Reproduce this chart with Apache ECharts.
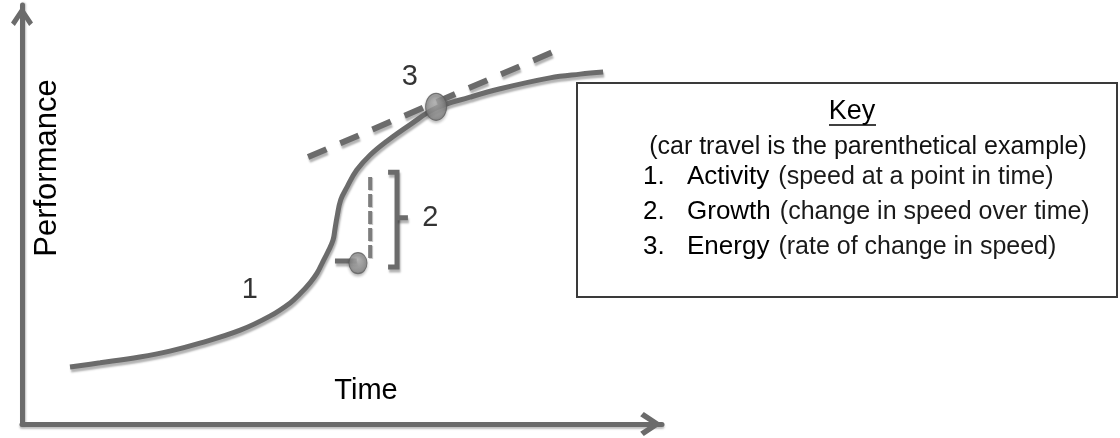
<!DOCTYPE html>
<html>
<head>
<meta charset="utf-8">
<script src="https://cdn.jsdelivr.net/npm/echarts@6/dist/echarts.min.js"></script>
<style>html,body{margin:0;padding:0;background:#fff}#c{width:1120px;height:438px}</style>
</head>
<body>
<div id="c"></div>
<script>
// Conceptual S-curve (Time 0-100, Performance 0-100)
const curveTime = [7.5, 12.2, 18.4, 23.1, 27.8, 34.1, 38.8, 41.9, 43.4, 45.0, 46.1, 47.0, 47.8, 48.6, 48.9, 49.2, 49.8, 50.8, 52.3, 54.4, 57.0, 60.6, 64.7, 70.0, 74.7, 82.5, 87.2, 90.8];
const curvePerf = [13.6, 14.6, 16.0, 17.4, 19.3, 22.4, 25.8, 28.9, 31.0, 33.7, 36.0, 38.7, 41.1, 43.9, 46.5, 49.2, 53.5, 56.6, 60.6, 64.2, 67.5, 71.4, 75.4, 78.0, 80.0, 82.6, 83.5, 84.0];
// Tangent (energy) dashed line
const tangentTime = [44.7, 83.0];
const tangentPerf = [63.7, 88.8];
// Growth: vertical dashed rise, base tick, bracket
const riseTime = [54.4, 54.4];
const risePerf = [39.6, 59.4];
const baseTime = [48.9, 52.3];
const basePerf = [38.9, 38.9];
const bracketTime = [57.2, 58.6, 58.6, 57.2];
const bracketPerf = [60.1, 60.1, 37.5, 37.5];
const bracketTickTime = [58.6, 60.3];
const bracketTickPerf = [49.2, 49.2];
// Marker points
const dotTime = [64.7, 52.5];
const dotPerf = [75.7, 38.4];
// Number labels
const labelText = ['1', '2', '3'];
const labelTime = [35.6, 63.8, 60.6];
const labelPerf = [32.0, 49.2, 82.8];
// Key text
const keyTitle = 'Key';
const keySub = '(car travel is the parenthetical example)';
const keyNums = ['1.', '2.', '3.'];
const keyWords = ['Activity', 'Growth', 'Energy'];
const keyDesc = ['(speed at a point in time)', '(change in speed over time)', '(rate of change in speed)'];

const zip = (a, b) => a.map((v, i) => [v, b[i]]);
const GRAY = '#6b6b6b';
const FONT = '"Liberation Sans", Arial, Helvetica, sans-serif';
const shadow = {shadowColor: 'rgba(0,0,0,0.3)', shadowBlur: 2, shadowOffsetX: 1, shadowOffsetY: 3};
const chevron = 'path://M10,0 L20,15 L16.5,18 L10,8 L3.5,18 L0,15 Z';

const chart = echarts.init(document.getElementById('c'), null, {renderer: 'canvas'});

const keyGraphics = [
  {type: 'rect', shape: {x: 577, y: 83, width: 540, height: 214}, style: {fill: '#fff', stroke: '#3a3a3a', lineWidth: 2}, z: 10},
  {type: 'text', x: 852, y: 112, style: {text: keyTitle, font: '27px ' + FONT, fill: '#000', textAlign: 'center', textVerticalAlign: 'middle'}, z: 11},
  {type: 'line', shape: {x1: 829, y1: 125, x2: 876, y2: 125}, style: {stroke: '#000', lineWidth: 1.5}, z: 11},
  {type: 'text', x: 868, y: 147, style: {text: keySub, font: '25px ' + FONT, fill: '#111', textAlign: 'center', textVerticalAlign: 'middle'}, z: 11}
];
keyNums.forEach((n, i) => {
  const y = 177 + i * 35;
  keyGraphics.push({type: 'text', x: 643, y: y, style: {text: n, font: '26px ' + FONT, fill: '#000', textAlign: 'left', textVerticalAlign: 'middle'}, z: 11});
  keyGraphics.push({type: 'text', x: 687, y: y, style: {
    text: '{k|' + keyWords[i] + '}{p|' + keyDesc[i] + '}',
    textAlign: 'left', textVerticalAlign: 'middle',
    rich: {k: {font: '26px ' + FONT, fill: '#000'}, p: {font: '25px ' + FONT, fill: '#1a1a1a', padding: [0, 0, 0, 9]}}
  }, z: 11});
});

const option = {
  animation: false,
  backgroundColor: '#fff',
  grid: {left: 22, right: 458, top: 5, bottom: 14},
  xAxis: {
    type: 'value', min: 0, max: 100,
    axisLine: {show: true, onZero: false, symbol: ['none', chevron], symbolSize: [24, 22], symbolOffset: [0, -11],
      lineStyle: {color: GRAY, width: 5, shadowColor: 'rgba(0,0,0,0.25)', shadowBlur: 2, shadowOffsetY: 2}},
    axisTick: {show: false}, axisLabel: {show: false}, splitLine: {show: false}
  },
  yAxis: {
    type: 'value', min: 0, max: 100,
    axisLine: {show: true, onZero: false, symbol: ['none', chevron], symbolSize: [22, 23], symbolOffset: [0, -11],
      lineStyle: {color: GRAY, width: 5, shadowColor: 'rgba(0,0,0,0.25)', shadowBlur: 2, shadowOffsetX: 1}},
    axisTick: {show: false}, axisLabel: {show: false}, splitLine: {show: false}
  },
  graphic: [
    {type: 'text', x: 366, y: 391, style: {text: 'Time', font: '29px ' + FONT, fill: '#000', textAlign: 'center', textVerticalAlign: 'middle'}},
    {type: 'text', x: 47, y: 168, rotation: Math.PI / 2, style: {text: 'Performance', font: '31px ' + FONT, fill: '#000', textAlign: 'center', textVerticalAlign: 'middle'}}
  ].concat(keyGraphics),
  series: [
    {type: 'line', data: zip(curveTime, curvePerf), showSymbol: false, smooth: 0.4,
      lineStyle: Object.assign({color: GRAY, width: 5}, shadow), z: 3},
    {type: 'line', data: zip(tangentTime, tangentPerf), showSymbol: false,
      lineStyle: Object.assign({color: GRAY, width: 6, type: [20, 15]}, shadow), z: 2},
    {type: 'line', data: zip(riseTime, risePerf), showSymbol: false,
      lineStyle: {color: '#7d7d7d', width: 4, type: [13, 4], shadowColor: 'rgba(0,0,0,0.2)', shadowOffsetX: 1, shadowOffsetY: 1}, z: 2},
    {type: 'line', data: zip(baseTime, basePerf), showSymbol: false,
      lineStyle: Object.assign({color: GRAY, width: 5}, shadow), z: 2},
    {type: 'line', data: zip(bracketTime, bracketPerf), showSymbol: false,
      lineStyle: Object.assign({color: GRAY, width: 5, join: 'miter'}, shadow), z: 2},
    {type: 'line', data: zip(bracketTickTime, bracketTickPerf), showSymbol: false,
      lineStyle: Object.assign({color: GRAY, width: 5}, shadow), z: 2},
    {type: 'scatter', data: zip(dotTime, dotPerf), symbol: 'circle',
      symbolSize: (v, p) => p.dataIndex === 0 ? [21, 27] : [18, 21],
      itemStyle: {
        color: new echarts.graphic.RadialGradient(0.45, 0.35, 0.7, [{offset: 0, color: '#b0b0b0'}, {offset: 1, color: '#767676'}]),
        borderColor: '#5e5e5e', borderWidth: 1,
        shadowColor: 'rgba(0,0,0,0.3)', shadowBlur: 3, shadowOffsetY: 2
      }, z: 5},
    {type: 'scatter', data: zip(labelTime, labelPerf).map((p, i) => ({value: p, name: labelText[i]})),
      symbolSize: 1, itemStyle: {color: 'rgba(0,0,0,0)'},
      label: {show: true, position: 'inside', formatter: '{b}', fontSize: 29, fontFamily: FONT, color: '#000'}, z: 6}
  ]
};
chart.setOption(option);
</script>
</body>
</html>
